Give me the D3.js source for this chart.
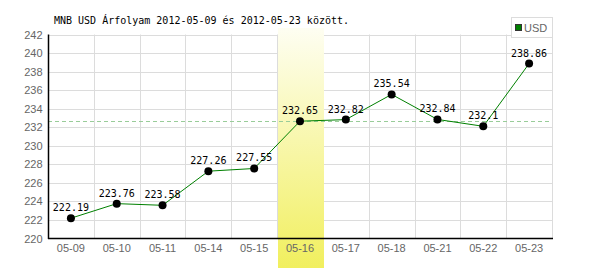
<!DOCTYPE html>
<html lang="hu">
<head>
  <meta charset="UTF-8">
  <title>MNB USD árfolyam</title>
  <style>
    body { margin: 0; background: #fff; }
    svg { display: block; }
    .tick-label { font-family: "Liberation Sans", Arial, sans-serif; font-size: 11px; fill: #666; }
    .mono { font-family: "DejaVu Sans Mono", monospace; font-size: 10px; fill: #000; }
  </style>
</head>
<body>
  <script src="https://d3js.org/d3.v7.min.js"></script>
  <script>
    const dates = ["05-09", "05-10", "05-11", "05-14", "05-15", "05-16", "05-17", "05-18", "05-21", "05-22", "05-23"];
    const rates = [222.19, 223.76, 223.58, 227.26, 227.55, 232.65, 232.82, 235.54, 232.84, 232.1, 238.86];
    const yTicks = [220, 222, 224, 226, 228, 230, 232, 234, 236, 238, 240, 242];
    const highlightDate = "05-16";
    const refValue = 232.65;
    const title = "MNB USD Árfolyam 2012-05-09 és 2012-05-23 között.";

    const width = 600, height = 270;
    const plotL = 48, plotR = 552, plotT = 34.5, plotB = 238.5;

    const svg = d3.select("body").append("svg").attr("width", width).attr("height", height);

    const x = d3.scaleBand().domain(dates).range([plotL, plotR]);
    const y = d3.scaleLinear().domain([220, 242]).range([plotB, plotT]);

    // gradient for highlighted day
    const grad = svg.append("defs").append("linearGradient")
      .attr("id", "hl").attr("x1", 0).attr("y1", 0).attr("x2", 0).attr("y2", 1);
    grad.append("stop").attr("offset", "0%").attr("stop-color", "#fefef2");
    grad.append("stop").attr("offset", "100%").attr("stop-color", "#f1ef5e");

    // grid
    const grid = svg.append("g").attr("stroke", "#dcdcdc").attr("stroke-width", 1);
    grid.selectAll("line.h").data(yTicks.slice(1)).enter().append("line")
      .attr("x1", plotL).attr("x2", plotR + 0.5)
      .attr("y1", d => Math.round(y(d)) + 0.5).attr("y2", d => Math.round(y(d)) + 0.5);
    grid.selectAll("line.v").data(dates.slice(1).concat(["end"])).enter().append("line")
      .attr("x1", d => Math.round(d === "end" ? plotR : x(d)) + 0.5)
      .attr("x2", d => Math.round(d === "end" ? plotR : x(d)) + 0.5)
      .attr("y1", plotT).attr("y2", plotB);

    // highlight band
    svg.append("rect")
      .attr("x", Math.round(x(highlightDate)) + 1)
      .attr("width", Math.round(x.bandwidth()))
      .attr("y", 28).attr("height", 240)
      .attr("fill", "url(#hl)");

    // reference dashed line
    svg.append("line")
      .attr("x1", plotL).attr("x2", plotR)
      .attr("y1", Math.round(y(refValue)) + 0.5).attr("y2", Math.round(y(refValue)) + 0.5)
      .attr("stroke", "#99cc99").attr("stroke-dasharray", "4,3");

    // axes
    svg.append("line").attr("x1", plotL + 0.5).attr("x2", plotL + 0.5)
      .attr("y1", plotT).attr("y2", plotB + 0.5).attr("stroke", "#000").attr("stroke-width", 1.5);
    svg.append("line").attr("x1", plotL).attr("x2", plotR + 1)
      .attr("y1", plotB).attr("y2", plotB).attr("stroke", "#000").attr("stroke-width", 1.5);

    svg.append("g").selectAll("text").data(yTicks).enter().append("text")
      .attr("class", "tick-label")
      .attr("x", 42.5).attr("y", d => y(d) + 4)
      .attr("text-anchor", "end")
      .text(d => d);

    svg.append("g").selectAll("text").data(dates).enter().append("text")
      .attr("class", "tick-label")
      .attr("x", d => x(d) + x.bandwidth() / 2).attr("y", 252)
      .attr("text-anchor", "middle")
      .text(d => d);

    // data line + points
    const pts = dates.map((d, i) => ({ date: d, value: rates[i] }));
    const cx = d => x(d.date) + x.bandwidth() / 2;

    svg.append("path").datum(pts)
      .attr("fill", "none").attr("stroke", "#008000").attr("stroke-width", 1)
      .attr("d", d3.line().x(cx).y(d => y(d.value)));

    svg.append("g").selectAll("circle").data(pts).enter().append("circle")
      .attr("cx", cx).attr("cy", d => y(d.value)).attr("r", 4).attr("fill", "#000");

    svg.append("g").selectAll("text").data(pts).enter().append("text")
      .attr("class", "mono")
      .attr("x", cx).attr("y", d => y(d.value) - 7)
      .attr("text-anchor", "middle")
      .text(d => d.value);

    // title
    svg.append("text").attr("class", "mono")
      .attr("x", 54).attr("y", 24).text(title);

    // legend
    const lg = svg.append("g");
    lg.append("rect").attr("x", 511.5).attr("y", 17.5).attr("width", 41).attr("height", 20)
      .attr("fill", "#fff").attr("stroke", "#dcdcdc");
    lg.append("rect").attr("x", 515.5).attr("y", 24.5).attr("width", 6).attr("height", 6)
      .attr("fill", "#008000").attr("stroke", "#333");
    lg.append("text").attr("class", "tick-label").attr("x", 524).attr("y", 31.5).text("USD");
  </script>
</body>
</html>
